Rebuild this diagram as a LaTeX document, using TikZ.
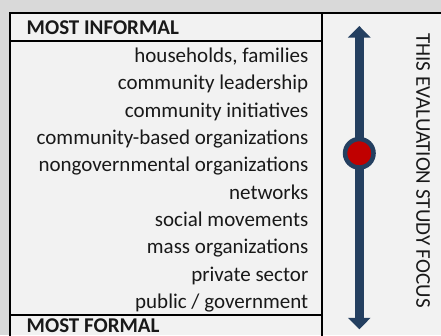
\documentclass[tikz,border=0pt]{standalone}
\usepackage{fontspec}
\setmainfont{Carlito}
\usetikzlibrary{arrows.meta}
\definecolor{panelgray}{HTML}{D9D9D9}
\definecolor{panelfill}{HTML}{F2F2F2}
\definecolor{focusblue}{HTML}{243F60}
\definecolor{focusred}{HTML}{C00000}

\begin{document}
\begin{tikzpicture}
[x=1pt,y=-1pt,%
  every node/.style={inner sep=0pt,text=black!90},%
  level/.style={anchor=base east},%
  extreme/.style={anchor=base west,font=\bfseries},%
  rule/.style={line width=2pt,black},%
  focustip/.tip={Triangle[width=22pt,length=11.5pt]}]
\fontsize{21}{25}\selectfont
\useasboundingbox (0,0) rectangle (441,335);
\fill[panelgray] (0,0) rectangle (441,335);
\fill[panelfill] (10.3,13.3) rectangle (441,335);
\draw[rule] (10.3,336) |- (442,13.3);
\draw[rule] (322,13.3) -- (322,336);
\draw[rule] (10.3,41) -- (322,41);
\draw[rule] (10.3,315) -- (322,315);
\node[extreme] (informal) at (26.5,34) {MOST INFORMAL};
\node[extreme] (formal) at (26.5,332.6) {MOST FORMAL};
\node[level] (households) at (308.5,62.5) {households, families};
\node[level] (leadership) at (308.5,89.8) {community leadership};
\node[level] (initiatives) at (308.5,117.2) {community initiatives};
\node[level] (cbo) at (308.5,144.5) {community-based organizations};
\node[level] (ngo) at (308.5,171.8) {nongovernmental organizations};
\node[level] (networks) at (308.5,199.2) {networks};
\node[level] (movements) at (308.5,226.5) {social movements};
\node[level] (massorg) at (308.5,253.8) {mass organizations};
\node[level] (private) at (308.5,281.1) {private sector};
\node[level] (public) at (308.5,308.5) {public / government};
\coordinate (up) at (359.3,26);
\coordinate (down) at (359.3,329.3);
\draw[focusblue,line width=9.3pt,focustip-focustip] (up) -- (down);
\node[circle,draw=focusblue,fill=focusred,line width=4.5pt,minimum size=28.5pt] (focus) at (359.3,153.3) {};
\node[rotate=-90] (focuslabel) at (423,170.5) {THIS EVALUATION STUDY FOCUS};
\end{tikzpicture}
\end{document}
